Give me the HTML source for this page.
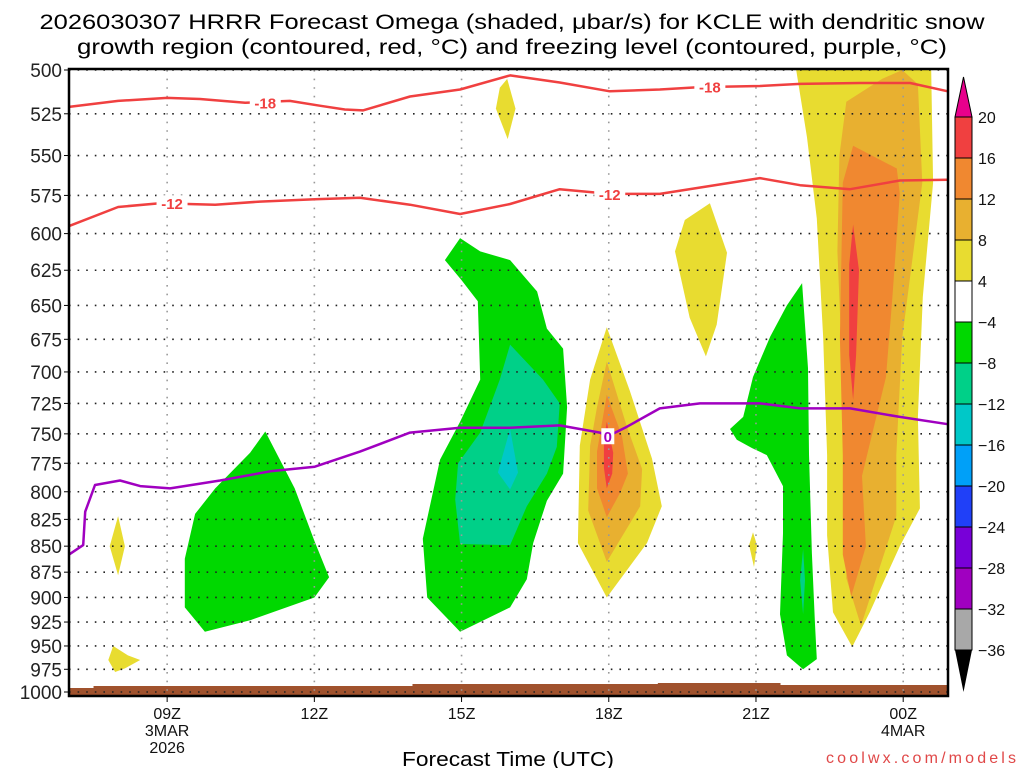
<!DOCTYPE html>
<html><head><meta charset="utf-8"><style>
html,body{margin:0;padding:0;background:#fff;}
svg{display:block;font-family:"Liberation Sans",sans-serif;}
</style></head><body>
<svg id="c" width="1024" height="768" viewBox="0 0 1024 768">
<text x="512" y="29" font-size="21" text-anchor="middle" textLength="945" lengthAdjust="spacingAndGlyphs">2026030307 HRRR Forecast Omega (shaded, μbar/s) for KCLE with dendritic snow</text>
<text x="512" y="54" font-size="21" text-anchor="middle" textLength="870" lengthAdjust="spacingAndGlyphs">growth region (contoured, red, °C) and freezing level (contoured, purple, °C)</text>
<g id="plot"></g>
<text x="508" y="766" font-size="20" text-anchor="middle" textLength="212" lengthAdjust="spacingAndGlyphs">Forecast Time (UTC)</text>
<text x="1016" y="763" font-size="16" text-anchor="end" fill="#e04848" textLength="190" lengthAdjust="spacing">coolwx.com/models</text>
</svg>
<script>
// axes
const pressureTicks=[500,525,550,575,600,625,650,675,700,725,750,775,800,825,850,875,900,925,950,975,1000];
const timeTickHours=[2,5,8,11,14,17];
const timeTickLabels=["09Z","12Z","15Z","18Z","21Z","00Z"];
const timeSubLabels=[["3MAR","2026"],[],[],[],[],["4MAR"]];
// colour scale
const levelBounds=[20,16,12,8,4,-4,-8,-12,-16,-20,-24,-28,-32,-36];
const levelColors=["#f04040","#f08830","#e8b030","#e8dc30","#ffffff","#00d800","#00d088","#00c8c8","#00a0f8","#2040f8","#7800d8","#a000c0","#a8a8a8"];
// shaded omega regions [hour since 07Z, hPa]
const yellowAreas=[
 [[1.0,822],[1.14,850],[1.0,878],[0.83,850]],
 [[0.9,950],[1.2,960],[1.45,965],[1.14,974],[0.94,978],[0.8,965]],
 [[8.93,505],[9.1,522],[8.94,540],[8.7,522],[8.78,510]],
 [[10.96,666],[11.43,715],[11.88,771],[12.08,813],[11.78,847],[10.96,900],[10.37,847],[10.41,760],[10.62,706]],
 [[13.06,580],[13.41,613],[13.2,664],[12.98,688],[12.65,659],[12.35,612],[12.55,591]],
 [[13.94,837],[14.02,849],[13.96,870],[13.86,849]],
 [[14.82,500],[15.04,539],[15.24,590],[15.37,674],[15.45,768],[15.45,840],[15.57,915],[15.96,951],[16.32,915],[16.93,850],[17.34,815],[17.3,736],[17.4,644],[17.61,567],[17.57,500]]
];
const goldAreas=[
 [[10.96,692],[11.37,744],[11.68,780],[11.64,813],[10.96,865],[10.58,817],[10.62,760],[10.76,728]],
 [[16.57,505],[15.84,518],[15.7,550],[15.66,612],[15.8,736],[15.84,822],[15.84,881],[16.14,929],[16.45,881],[16.86,822],[16.86,768],[16.98,674],[17.39,567],[17.3,508],[16.98,500]]
];
const orangeAreas=[
 [[10.96,718],[11.27,752],[11.39,784],[11.23,801],[10.96,823],[10.76,797],[10.76,765]],
 [[15.98,544],[16.87,558],[16.93,574],[16.78,644],[16.65,704],[16.16,786],[16.24,850],[15.94,899],[15.77,858],[15.77,768],[15.71,674],[15.77,567]]
];
const redAreas=[
 [[10.96,740],[11.09,766],[11.07,784],[10.96,797],[10.9,779],[10.9,755]],
 [[15.98,594],[16.1,625],[16.04,687],[15.98,722],[15.9,687],[15.9,621]]
];
const greenAreas=[
 [[4.0,748],[4.6,797],[5.0,845],[5.3,880],[5.0,900],[3.7,923],[2.77,935],[2.36,910],[2.36,862],[2.57,820],[2.98,797],[3.69,766]],
 [[7.97,603],[7.66,618],[8.0,632],[8.33,647],[8.38,706],[7.97,740],[7.56,772],[7.21,843],[7.3,900],[7.97,935],[8.99,910],[9.33,882],[9.46,847],[9.74,808],[10.07,784],[10.15,728],[10.07,682],[9.74,667],[9.54,640],[8.99,618],[8.38,612]],
 [[14.94,634],[15.06,697],[15.08,767],[15.14,857],[15.2,925],[15.24,964],[14.96,975],[14.63,960],[14.49,917],[14.55,838],[14.55,795],[14.22,768],[13.92,762],[13.61,755],[13.47,746],[13.74,736],[13.94,704],[14.29,673],[14.63,650]]
];
const tealAreas=[
 [[8.99,679],[8.78,706],[8.38,749],[7.93,775],[7.87,807],[7.97,848],[8.99,849],[9.33,813],[9.74,784],[9.94,761],[10.0,725],[9.66,706]],
 [[14.96,853],[15.0,883],[14.96,917],[14.9,883]]
];
const cyanAreas=[
 [[8.99,746],[9.15,783],[8.99,798],[8.74,783]]
];
// contour lines
const dgzMinus18=[[0,521],[1,517.5],[2,515.8],[2.67,516.4],[3.59,518.6],[4.5,517.5],[5.11,520.3],[5.62,522.5],[5.99,523],[6.95,515],[7.97,511],[8.99,503],[10.0,507],[11.02,512],[12.04,511],[12.86,509.6],[14.08,509],[14.9,507.8],[16.12,507.3],[17.14,507.3],[17.91,512]];
const dgzMinus12=[[0,595],[1,582.5],[1.85,580],[2.98,581],[3.89,579],[5.01,577.5],[5.93,576.5],[6.95,581],[7.97,587],[8.99,580.5],[10.0,571],[11.02,574],[12.04,574],[13.06,569],[14.08,564],[14.9,568.5],[15.92,571],[16.93,565.5],[17.91,565]];
const freezingLevel=[[0,858],[0.29,849],[0.33,818],[0.53,794],[1.04,790],[1.45,795],[2.06,797],[3.08,790],[4.1,782],[5.01,778],[5.93,765],[6.95,749],[7.97,745],[8.99,745],[10.0,743],[10.82,749],[10.98,752],[11.33,745],[12.04,729],[12.86,725],[14.08,725],[14.9,729],[15.92,729],[16.93,736],[17.91,742]];
const contourLabels=[["-18",4.0,518.5,"#f04040"],["-18",13.06,509.4,"#f04040"],["-12",2.1,580,"#f04040"],["-12",11.02,574,"#f04040"],["0",10.98,752,"#a000c0"]];

const X0=69,X1=948,Y0=70,Y1=692,PPH=49.07;
function xs(h){return X0+h*PPH;}
function ys(p){return Y0+Math.log(p/500)/Math.LN2*(Y1-Y0);}
const NS="http://www.w3.org/2000/svg";
const plot=document.getElementById('plot');
function mk(t,a,parent){const e=document.createElementNS(NS,t);for(const k in a)e.setAttribute(k,a[k]);(parent||plot).appendChild(e);return e;}
function pts(arr){return arr.map(d=>xs(d[0]).toFixed(1)+","+ys(d[1]).toFixed(1)).join(" ");}

function areas(list,color,name){list.forEach(a=>{const e=mk('polygon',{points:pts(a),fill:color});

});}
areas(yellowAreas,levelColors[3],'omega-4-8');
areas(goldAreas,levelColors[2],'omega-8-12');
areas(orangeAreas,levelColors[1],'omega-12-16');
areas(redAreas,levelColors[0],'omega-16-20');
areas(greenAreas,levelColors[5],'omega-neg4-neg8');
areas(tealAreas,levelColors[6],'omega-neg8-neg12');
areas(cyanAreas,levelColors[7],'omega-neg12-neg16');

// ground
const g=mk('polygon',{points:`${X0},696 ${X0},688 ${xs(0.5)},688 ${xs(0.5)},686 ${xs(7)},686 ${xs(7)},684 ${xs(12)},684 ${xs(12)},683 ${xs(14.5)},683 ${xs(14.5)},685 ${X1},685 ${X1},696`,fill:"#a0522d"});



// grid
pressureTicks.forEach(p=>{const l=mk('line',{x1:X0,x2:X1,y1:ys(p),y2:ys(p),stroke:"#222","stroke-width":1.6,"stroke-dasharray":"1.6 7"});


const tk=mk('line',{x1:X0-5,x2:X0,y1:ys(p),y2:ys(p),stroke:"#000","stroke-width":1});


const t=mk('text',{x:X0-7,y:ys(p)+7,"font-size":19,"text-anchor":"end",fill:"#222"});t.textContent=p;

});
timeTickHours.forEach((h,i)=>{const l=mk('line',{x1:xs(h),x2:xs(h),y1:Y0,y2:696,stroke:"#999","stroke-width":1.6,"stroke-dasharray":"1.6 7"});


const tk=mk('line',{x1:xs(h),x2:xs(h),y1:696,y2:702,stroke:"#000","stroke-width":1});


const t=mk('text',{x:xs(h),y:719,"font-size":16,"text-anchor":"middle",fill:"#111"});t.textContent=timeTickLabels[i];


timeSubLabels[i].forEach((s,j)=>{const u=mk('text',{x:xs(h),y:736+j*17,"font-size":16,"text-anchor":"middle",fill:"#111"});u.textContent=s;

});});

function line(arr,color,name){const e=mk('polyline',{points:pts(arr),fill:"none",stroke:color,"stroke-width":2.5,"stroke-linejoin":"round"});

}
line(dgzMinus18,"#f04040","contour-minus18");
line(dgzMinus12,"#f04040","contour-minus12");
line(freezingLevel,"#a000c0","freezing-level-line");
contourLabels.forEach(c=>{const x=xs(c[1]),y=ys(c[2]);const w=c[0].length*9+4;
const r=mk('rect',{x:x-w/2,y:y-8,width:w,height:16,fill:"#fff"});


const t=mk('text',{x:x,y:y+6,"font-size":15,"font-weight":"bold","text-anchor":"middle",fill:c[3]});t.textContent=c[0];

});

// frame
const fr=mk('rect',{x:X0,y:Y0-1,width:X1-X0,height:696-Y0+1,fill:"none",stroke:"#000","stroke-width":2.5});



// colorbar
const CX=955,CW=17,CT=117,CS=41;
const tri=mk('polygon',{points:`${CX},${CT} ${CX+CW},${CT} ${CX+CW/2},77`,fill:"#e8008c",stroke:"#000","stroke-width":1});


levelColors.forEach((c,i)=>{const y=CT+i*CS;const h=(i==levelColors.length-1)?(650-y):CS;
const r=mk('rect',{x:CX,y:y,width:CW,height:h,fill:c,stroke:"#000","stroke-width":1});

});
const tri2=mk('polygon',{points:`${CX},650 ${CX+CW},650 ${CX+CW/2},692`,fill:"#000"});


levelBounds.forEach((v,i)=>{const y=(i==levelBounds.length-1)?650:CT+i*CS;
const t=mk('text',{x:978,y:y+6,"font-size":16,fill:"#111"});t.textContent=(v<0?"\u2212":"")+Math.abs(v);

});
</script>
</body></html>
